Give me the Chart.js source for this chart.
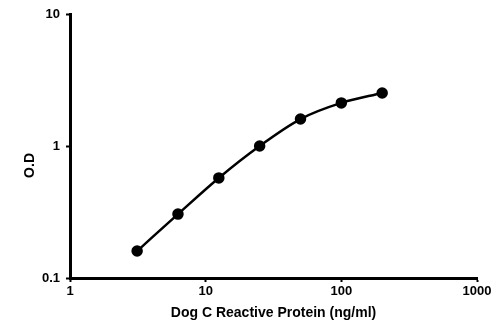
<!DOCTYPE html>
<html>
<head>
<meta charset="utf-8">
<script src="https://cdn.jsdelivr.net/npm/chart.js@4/dist/chart.umd.min.js"></script>
<style>
  html, body { margin: 0; padding: 0; background: #fff; }
  #wrap { width: 500px; height: 329px; }
</style>
</head>
<body>
<div id="wrap"><canvas id="odChart"></canvas></div>
<script>
// standard curve: concentration (ng/ml) vs optical density
var concentrations = [3.125, 6.25, 12.5, 25, 50, 100, 200];
var odValues = [0.16, 0.305, 0.573, 1.0, 1.60, 2.12, 2.52];
var xTicks = [1, 10, 100, 1000];
var yTicks = [0.1, 1, 10];

var points = concentrations.map(function (c, i) {
    return { x: c, y: odValues[i] };
});

var tickFont = { family: 'Liberation Sans, Arial, sans-serif', size: 13, weight: 'bold' };
var titleFont = { family: 'Liberation Sans, Arial, sans-serif', size: 14, weight: 'bold' };

var ctx = document.getElementById('odChart').getContext('2d');
var chart = new Chart(ctx, {
    type: 'line',
    data: {
        datasets: [{
            label: 'O.D',
            data: points,
            borderColor: '#000',
            backgroundColor: '#000',
            borderWidth: 2.5,
            pointRadius: 4.5,
            pointHoverRadius: 4.5,
            cubicInterpolationMode: 'monotone',
            fill: false
        }]
    },
    options: {
        responsive: true,
        maintainAspectRatio: false,
        animation: false,
        layout: { padding: { top: 14, right: 23, left: 0, bottom: 0 } },
        plugins: {
            legend: { display: false },
            tooltip: { enabled: false }
        },
        scales: {
            x: {
                type: 'logarithmic',
                min: 1,
                max: 1000,
                afterBuildTicks: function (scale) {
                    scale.ticks = xTicks.map(function (v) { return { value: v }; });
                },
                afterFit: function (scale) { scale.height = 51; },
                ticks: {
                    color: '#000',
                    font: tickFont,
                    padding: 2,
                    maxRotation: 0,
                    callback: function (v) { return String(v); }
                },
                grid: {
                    display: true,
                    drawOnChartArea: false,
                    drawTicks: true,
                    tickLength: 4,
                    tickWidth: 2,
                    color: '#000'
                },
                border: { display: true, color: '#000', width: 3 },
                title: {
                    display: true,
                    text: 'Dog C Reactive Protein (ng/ml)',
                    color: '#000',
                    font: titleFont,
                    padding: { top: 2, bottom: 7 }
                }
            },
            y: {
                type: 'logarithmic',
                min: 0.1,
                max: 10,
                afterBuildTicks: function (scale) {
                    scale.ticks = yTicks.map(function (v) { return { value: v }; });
                },
                afterFit: function (scale) { scale.width = 70; },
                ticks: {
                    color: '#000',
                    font: tickFont,
                    padding: 6,
                    callback: function (v) { return String(v); }
                },
                grid: {
                    display: true,
                    drawOnChartArea: false,
                    drawTicks: true,
                    tickLength: 4,
                    tickWidth: 2,
                    color: '#000'
                },
                border: { display: true, color: '#000', width: 3 },
                title: {
                    display: true,
                    // trailing spaces nudge the rotated title down a bit
                    text: 'O.D          ',
                    color: '#000',
                    font: titleFont,
                    padding: { top: 22, bottom: 4 }
                }
            }
        }
    }
});
</script>
</body>
</html>
